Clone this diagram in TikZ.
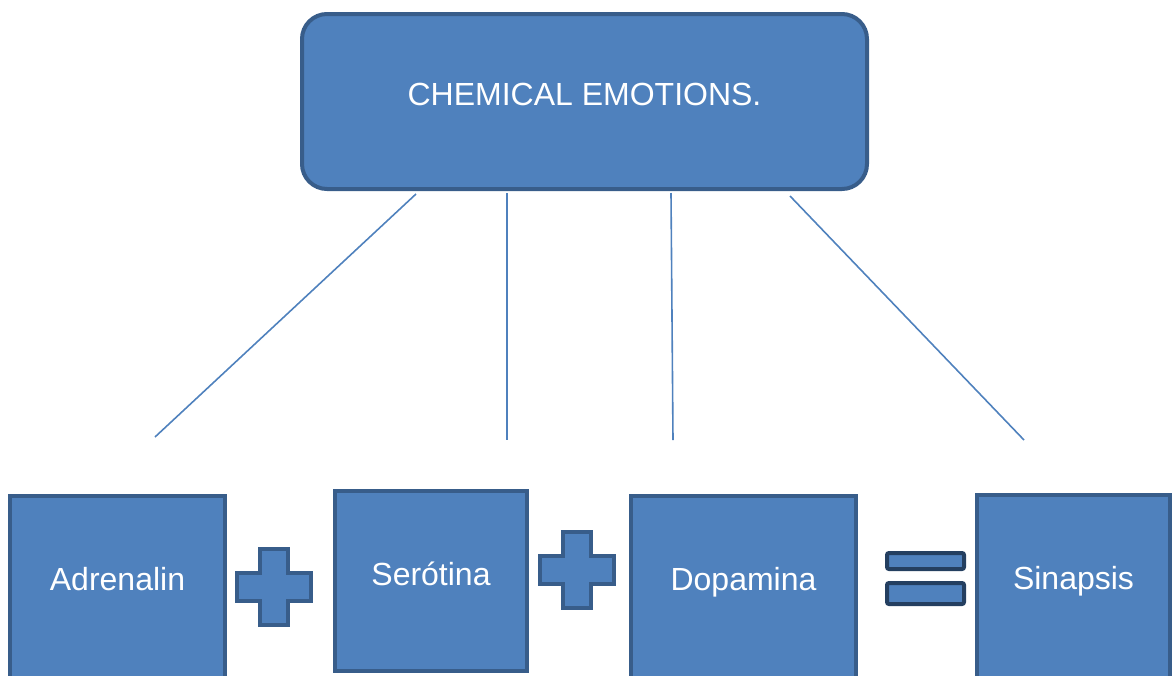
\documentclass[tikz,border=0pt]{standalone}
\usepackage{fontspec}
\setmainfont{Liberation Sans}
\usepackage{xcolor}
\definecolor{BoxBlue}{HTML}{4F81BD}
\definecolor{BoxEdge}{HTML}{385D8A}
\definecolor{DarkEdge}{HTML}{243F60}
\begin{document}
\begin{tikzpicture}[x=1pt,y=-1pt,
    box/.style={draw=BoxEdge, fill=BoxBlue, line width=4pt, text=white, inner sep=0pt,
        anchor=base, font=\fontsize{32}{38}\selectfont, align=center},
    link/.style={draw=BoxBlue, line width=1.6pt},
    plussign/.pic={\draw[draw=BoxEdge, fill=BoxBlue, line width=4pt]
        (-14,-38)--(14,-38)--(14,-14)--(37,-14)--(37,14)--(14,14)--(14,38)
        --(-14,38)--(-14,14)--(-37,14)--(-37,-14)--(-14,-14)--cycle;}]
\useasboundingbox (0,0) rectangle (1173,675);
\node[box, rounded corners=25pt, minimum width=565pt, text height=91pt, text depth=84pt] (title) at (584.5,105) {CHEMICAL EMOTIONS.};
\node[box, minimum width=215pt, text height=94pt, text depth=110pt] (adrenalin) at (117.5,590) {Adrenalin};
\node[box, minimum width=192pt, text height=94pt, text depth=86pt] (serotina) at (431,585) {Ser\'otina};
\node[box, minimum width=225pt, text height=94pt, text depth=110pt] (dopamina) at (743.5,590) {Dopamina};
\node[box, minimum width=193pt, text height=94pt, text depth=110pt] (sinapsis) at (1073.5,589) {Sinapsis};
\pic at (274,587) {plussign};
\pic at (577,570) {plussign};
\draw[draw=DarkEdge, fill=BoxBlue, line width=4pt, rounded corners=2pt] (887,553) rectangle (964,569);
\draw[draw=DarkEdge, fill=BoxBlue, line width=4pt, rounded corners=2pt] (887,583) rectangle (964,604);
\coordinate (e1) at (155,437);
\coordinate (e2) at (507,440);
\coordinate (e3) at (673,440);
\coordinate (e4) at (1024,440);
\draw[link] ([xshift=-168.5pt, yshift=-3pt]title.south) -- (e1);
\draw[link] ([xshift=-77.5pt, yshift=-2pt]title.south) -- (e2);
\draw[link] ([xshift=86.5pt, yshift=-2pt]title.south) -- (e3);
\draw[link] ([xshift=205.5pt, yshift=-5pt]title.south) -- (e4);
\end{tikzpicture}
\end{document}
